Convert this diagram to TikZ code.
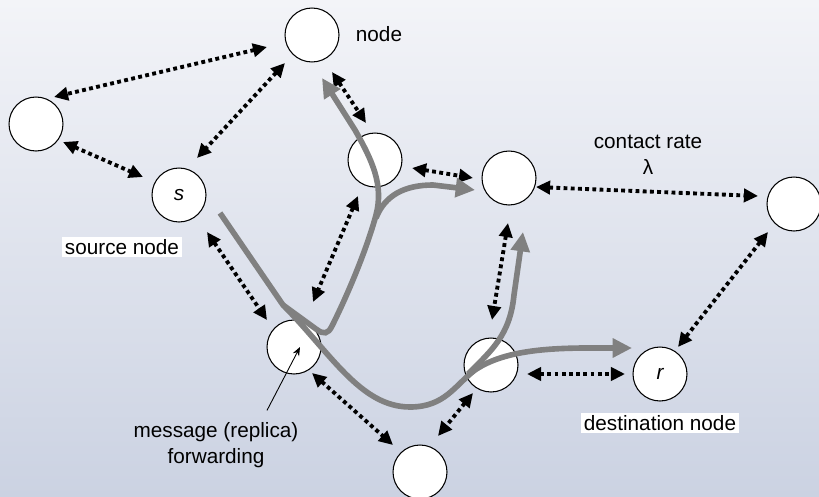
\documentclass[tikz,border=0pt]{standalone}
\usepackage{fontspec}
\setmainfont{Liberation Sans}
\usetikzlibrary{arrows.meta}

\definecolor{bgtop}{RGB}{243,244,248}
\definecolor{bgbottom}{RGB}{203,210,226}
\definecolor{fwdgray}{RGB}{128,128,128}
\newcommand{\figfont}{\fontsize{11.8}{14.5}\selectfont}

\begin{document}
\begin{tikzpicture}[
    x=0.02cm, y=-0.02cm,
    font=\figfont,
    host/.style={
        circle, draw, fill=white,
        line width=0.6pt,
        minimum size=1.08cm,
        inner sep=0pt,
        font=\figfont\itshape
    },
    contact/.style={
        {Triangle[length=8pt,width=7.5pt]}-{Triangle[length=8pt,width=7.5pt]},
        line width=2.2pt,
        dash pattern=on 2.2pt off 1.9pt
    },
    relay/.style={
        draw=fwdgray,
        line width=3.2pt,
        -{Triangle[length=11pt,width=10.5pt]}
    },
    caption/.style={fill=white, inner sep=1.5pt}
]

% Background
\useasboundingbox (0,0) rectangle (819,497);
\shade[top color=bgtop, bottom color=bgbottom] (0,0) rectangle (819,497);

% Nodes
\node[host] (top) at (312,35) {};
\node[host] (left) at (36,124) {};
\node[host] (s) at (179,195) {s};
\node[host] (A) at (375,160) {};
\node[host] (B) at (509,178) {};
\node[host] (C) at (794,204) {};
\node[host] (M) at (294,347) {};
\node[host] (D) at (491,365) {};
\node[host] (r) at (660,374) {r};
\node[host] (E) at (420,472) {};

% Labels
\node (toplabel) at (379,34) {node};
\node[align=center] (rate) at (648,155) {contact rate\\λ};
\node[caption] (srclabel) at (122,247) {source node};
\node[caption] (dstlabel) at (660,423) {destination node};
\node[align=center] (msg) at (216,445) {message (replica)\\forwarding};

% Contacts
\draw[contact] ([shift={(-45,12)}]top.center) -- ([shift={(18,-27)}]left.center);
\draw[contact] ([shift={(-27,28)}]top.center) -- ([shift={(18,-37)}]s.center);
\draw[contact] ([shift={(27,18)}]left.center) -- ([shift={(-36,-18)}]s.center);
\draw[contact] ([shift={(20,37)}]top.center) -- ([shift={(-9,-37)}]A.center);
\draw[contact] ([shift={(37,8)}]A.center) -- ([shift={(-36,0)}]B.center);
\draw[contact] ([shift={(-17,36)}]A.center) -- ([shift={(19,-45)}]M.center);
\draw[contact] ([shift={(28,37)}]s.center) -- ([shift={(-27,-27)}]M.center);
\draw[contact] ([shift={(27,9)}]B.center) -- ([shift={(-36,-8)}]C.center);
\draw[contact] ([shift={(-1,45)}]B.center) -- ([shift={(1,-45)}]D.center);
\draw[contact] ([shift={(-26,28)}]C.center) -- ([shift={(18,-27)}]r.center);
\draw[contact] ([shift={(36,9)}]D.center) -- ([shift={(-35,0)}]r.center);
\draw[contact] ([shift={(18,26)}]M.center) -- ([shift={(-27,-27)}]E.center);
\draw[contact] ([shift={(-18,28)}]D.center) -- ([shift={(18,-36)}]E.center);

% Forwarding paths
\draw[relay] ([shift={(41,18)}]s.center) -- (283,305)
    .. controls (330,352) and (360,407) .. (410,407)
    .. controls (445,407) and (455,385) .. (475,370)
    .. controls (510,346) and (570,348) .. ([shift={(-28,-26)}]r.center);
\draw[relay] (283,305) -- (316,329)
    .. controls (324,335) and (328,334) .. (332,326)
    .. controls (350,290) and (368,245) .. (376,215)
    .. controls (384,185) and (372,160) .. (355,130)
    -- ([shift={(10,43)}]top.center);
\draw[relay] (376,218) .. controls (385,195) and (405,185) .. (433,185)
    -- ([shift={(-34,12)}]B.center);
\draw[relay] (468,374) .. controls (492,350) and (510,335) .. (514,295)
    -- ([shift={(14,54)}]B.center);

% Pointer
\draw[-{Stealth[length=5pt,width=4pt]}, line width=0.5pt]
    ([shift={(51,-6)}]msg.north) -- ([shift={(6,0)}]M.center);

\end{tikzpicture}
\end{document}
